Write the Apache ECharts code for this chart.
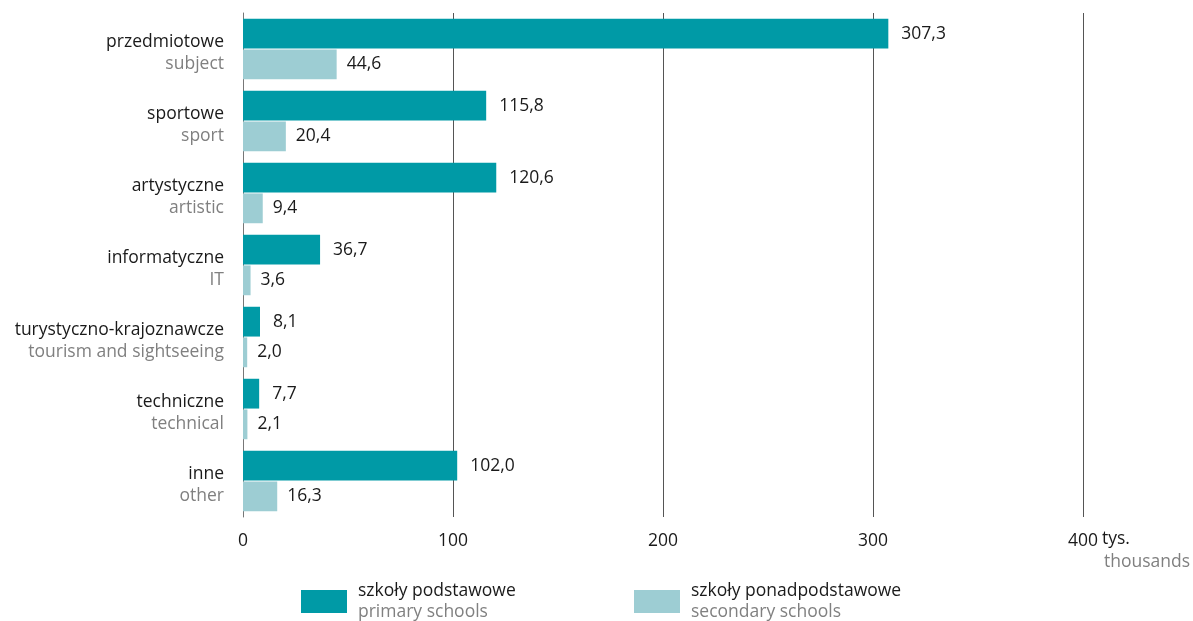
<!DOCTYPE html>
<html>
<head>
<meta charset="utf-8">
<script src="https://cdn.jsdelivr.net/npm/echarts@6/dist/echarts.min.js"></script>
<style>html,body{margin:0;padding:0;background:#fff}#c{width:1193px;height:621px}</style>
</head>
<body>
<div id="c"></div>
<script>
const categoriesPl = ['przedmiotowe','sportowe','artystyczne','informatyczne','turystyczno-krajoznawcze','techniczne','inne'];
const categoriesEn = ['subject','sport','artistic','IT','tourism and sightseeing','technical','other'];
const primarySchools = [307.3,115.8,120.6,36.7,8.1,7.7,102.0];
const secondarySchools = [44.6,20.4,9.4,3.6,2.0,2.1,16.3];
const xTicks = [0,100,200,300,400];
const seriesNames = ['szkoły podstawowe','szkoły ponadpodstawowe'];
const seriesNamesEn = ['primary schools','secondary schools'];

const FONT = '"Open Sans", "Noto Sans", sans-serif';
const FS = 17.5;
const DARK = '#1a1a1a', GREY = '#808080';
const C1 = '#009aa6', C2 = '#9dcdd3';

const chart = echarts.init(document.getElementById('c'));
const fmt = v => v.toFixed(1).replace('.', ',');
const legendFmt = name => {
  const i = seriesNames.indexOf(name);
  return '{a|' + name + '}\n{b|' + seriesNamesEn[i] + '}';
};
const legendRich = {
  a: {fontFamily: FONT, fontSize: FS, color: DARK, lineHeight: 21, padding: [0,0,0,6]},
  b: {fontFamily: FONT, fontSize: FS, color: GREY, lineHeight: 21, padding: [0,0,0,6]}
};
chart.setOption({
  animation: false,
  textStyle: {fontFamily: FONT},
  grid: {left: 243, right: 110, top: 13, bottom: 104, containLabel: false},
  xAxis: {
    type: 'value', min: 0, max: 400, interval: 100,
    axisLine: {show: false}, axisTick: {show: false},
    splitLine: {show: true, lineStyle: {color: '#555', width: 1}},
    axisLabel: {fontFamily: FONT, fontSize: FS, color: DARK, margin: 15,
      formatter: v => xTicks.includes(v) ? String(v) : ''}
  },
  yAxis: {
    type: 'category', inverse: true, data: categoriesPl,
    axisLine: {show: true, lineStyle: {color: '#777', width: 1}},
    axisTick: {show: false},
    axisLabel: {
      margin: 19,
      padding: [8, 0, 0, 0],
      formatter: (v, i) => '{a|' + v + '}\n{b|' + categoriesEn[i] + '}',
      rich: {
        a: {fontFamily: FONT, fontSize: FS, color: DARK, lineHeight: 22, align: 'right'},
        b: {fontFamily: FONT, fontSize: FS, color: GREY, lineHeight: 22, align: 'right'}
      }
    }
  },
  legend: [
    {data: [seriesNames[0]], left: 301, top: 582, padding: 0, itemWidth: 46, itemHeight: 23, icon: 'rect',
     formatter: legendFmt, textStyle: {rich: legendRich}},
    {data: [seriesNames[1]], left: 634, top: 582, padding: 0, itemWidth: 46, itemHeight: 23, icon: 'rect',
     formatter: legendFmt, textStyle: {rich: legendRich}}
  ],
  series: [
    {name: seriesNames[0], type: 'bar', data: primarySchools, itemStyle: {color: C1},
     barGap: '3%', barCategoryGap: '16%',
     label: {show: true, position: 'right', distance: 13, fontFamily: FONT, fontSize: FS, color: DARK, formatter: p => fmt(p.value)}},
    {name: seriesNames[1], type: 'bar', data: secondarySchools, itemStyle: {color: C2},
     label: {show: true, position: 'right', distance: 10, fontFamily: FONT, fontSize: FS, color: DARK, formatter: p => fmt(p.value)}}
  ]
});
const px = chart.convertToPixel({xAxisIndex: 0}, 400);
chart.setOption({
  graphic: [
    {type: 'text', left: px + 19, top: 530, style: {text: 'tys.', font: FS + 'px ' + FONT, fill: DARK}},
    {type: 'text', left: px + 21, top: 553, style: {text: 'thousands', font: FS + 'px ' + FONT, fill: GREY}}
  ]
});
</script>
</body>
</html>
